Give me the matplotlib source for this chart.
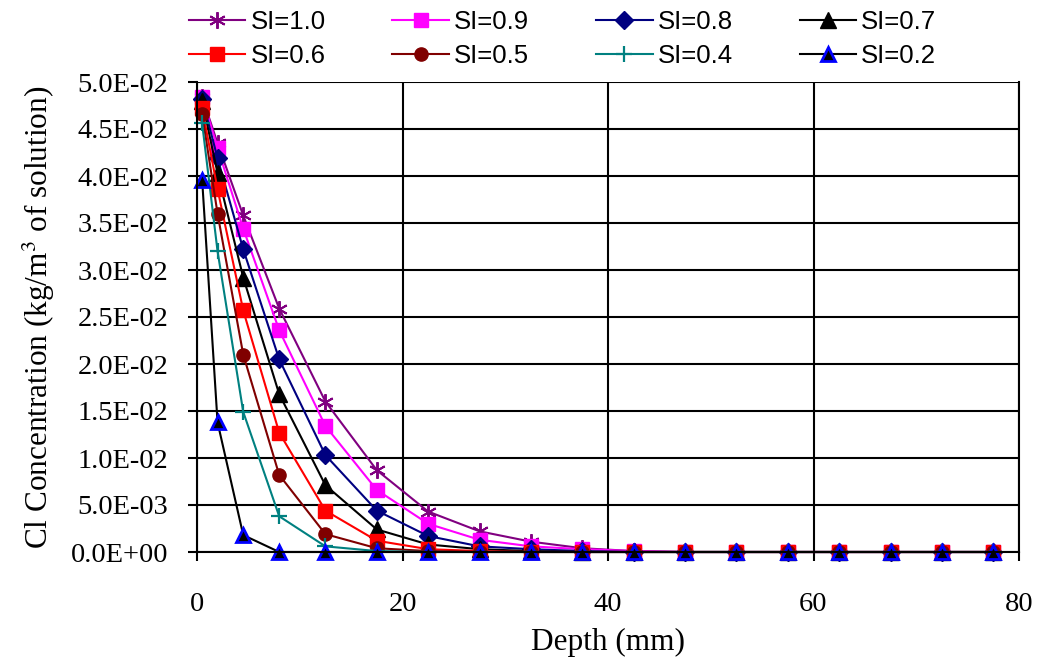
import matplotlib
matplotlib.use("Agg")
import matplotlib.pyplot as plt
from matplotlib.ticker import FuncFormatter

depth = [0.5, 2, 4.5, 8, 12.5, 17.5, 22.5, 27.5, 32.5, 37.5, 42.5,
         47.5, 52.5, 57.5, 62.5, 67.5, 72.5, 77.5]

si_10 = [0.0484, 0.0435, 0.0358, 0.0259, 0.0160, 0.0087, 0.0043, 0.0022, 0.0011, 0.0004, 0.0001,
         0, 0, 0, 0, 0, 0, 0]
si_09 = [0.0484, 0.0430, 0.0344, 0.0236, 0.0134, 0.0066, 0.0030, 0.0013, 0.0006, 0.0003, 0.0001,
         0, 0, 0, 0, 0, 0, 0]
si_08 = [0.0482, 0.0419, 0.0322, 0.0205, 0.0103, 0.0044, 0.0017, 0.0006, 0.0003, 0.0001, 0,
         0, 0, 0, 0, 0, 0, 0]
si_07 = [0.0480, 0.0403, 0.0292, 0.0168, 0.0071, 0.0024, 0.0008, 0.0003, 0.0001, 0, 0,
         0, 0, 0, 0, 0, 0, 0]
si_06 = [0.0472, 0.0386, 0.0257, 0.0127, 0.0044, 0.0012, 0.0003, 0.0001, 0, 0, 0,
         0, 0, 0, 0, 0, 0, 0]
si_05 = [0.0466, 0.0360, 0.0210, 0.0082, 0.0019, 0.0004, 0.0001, 0, 0, 0, 0,
         0, 0, 0, 0, 0, 0, 0]
si_04 = [0.0456, 0.0320, 0.0149, 0.0038, 0.0006, 0.0001, 0, 0, 0, 0, 0,
         0, 0, 0, 0, 0, 0, 0]
si_02 = [0.0396, 0.0138, 0.0018, 0, 0, 0, 0, 0, 0, 0, 0,
         0, 0, 0, 0, 0, 0, 0]

labels = ["SI=1.0", "SI=0.9", "SI=0.8", "SI=0.7", "SI=0.6", "SI=0.5", "SI=0.4", "SI=0.2"]
series = [si_10, si_09, si_08, si_07, si_06, si_05, si_04, si_02]

styles = [
    dict(color="#800080", marker=(6, 2, 0), ms=12, mfc="#800080", mec="#800080", mew=1.4),
    dict(color="#ff00ff", marker="s", ms=10.5, mfc="#ff00ff", mec="#ff00ff", mew=1),
    dict(color="#000080", marker="D", ms=9.5, mfc="#000080", mec="#000080", mew=1),
    dict(color="black", marker="^", ms=11, mfc="black", mec="black", mew=1),
    dict(color="#ff0000", marker="s", ms=10.5, mfc="#ff0000", mec="#ff0000", mew=1),
    dict(color="#800000", marker="o", ms=9.5, mfc="#800000", mec="#800000", mew=1),
    dict(color="#008080", marker="+", ms=12, mfc="#008080", mec="#008080", mew=1.6),
    dict(color="black", marker="^", ms=10, mfc="black", mec="#0000ff", mew=2),
]

plt.rcParams["mathtext.fontset"] = "stix"

fig = plt.figure(figsize=(10.4, 6.64), dpi=100)
ax = fig.add_axes([197 / 1040, 1 - 552 / 664, (1019 - 197) / 1040, (552 - 82) / 664])

handles = []
for lab, vals, st in zip(labels, series, styles):
    h, = ax.plot(depth, vals, lw=1.5, label=lab, clip_on=False, **st)
    handles.append(h)

ax.set_xlim(0, 80)
ax.set_ylim(0, 0.05)
ax.set_xticks([0, 20, 40, 60, 80])
ax.set_yticks([i * 0.005 for i in range(11)])
ax.yaxis.set_major_formatter(FuncFormatter(lambda v, p: "%.1E" % v))
ax.grid(True, color="black", lw=1.5)
ax.set_axisbelow(True)
for s in ax.spines.values():
    s.set_linewidth(1.5)
    s.set_color("black")
ax.spines["top"].set_visible(False)
ax.tick_params(direction="out", length=6.5, width=1.5, labelsize=20.5)
ax.tick_params(axis="y", pad=14)
ax.tick_params(axis="x", pad=22)
for t in ax.get_xticklabels() + ax.get_yticklabels():
    t.set_fontfamily("Liberation Serif")

ax.set_xlabel("Depth (mm)", fontsize=22.5, fontfamily="Liberation Serif", labelpad=8)
ax.set_ylabel("Cl Concentration (kg/m$^3$ of solution)", fontsize=22.5,
              fontfamily="Liberation Serif", labelpad=10)

order = [0, 4, 1, 5, 2, 6, 3, 7]
fig.legend([handles[i] for i in order], [labels[i] for i in order], ncol=4,
           loc="upper left", bbox_to_anchor=(176 / 1040, 1.005), frameon=False,
           prop={"family": "Liberation Sans", "size": 18.5}, handlelength=2.2,
           handletextpad=0.2, columnspacing=2.6, labelspacing=0.4, borderaxespad=0.1)

fig.savefig("out.png", dpi=100)
